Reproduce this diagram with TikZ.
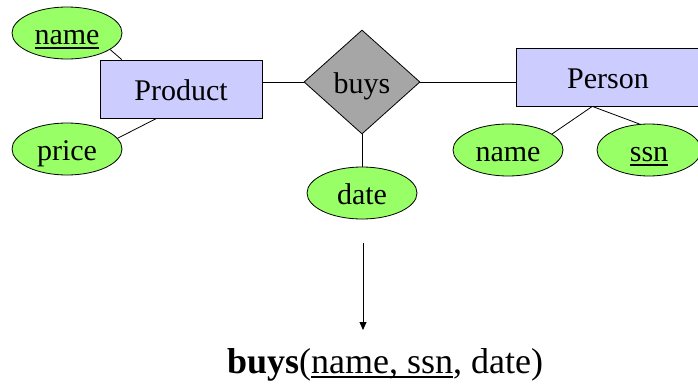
\documentclass[tikz,border=0pt]{standalone}
\usepackage{fontspec}
\setmainfont{Liberation Serif}
\newfontfamily\timesf{Liberation Serif}
\usetikzlibrary{shapes.geometric,arrows.meta,calc}
\definecolor{attrgreen}{RGB}{153,255,102}
\definecolor{entblue}{RGB}{204,204,255}
\definecolor{relgray}{RGB}{166,166,166}
\newcommand{\keyul}[2][1.6pt]{\setbox0\hbox{#2}\rlap{\rule[-5pt]{\wd0}{#1}}\box0}
\begin{document}
\begin{tikzpicture}[x=1pt,y=-1pt,
  font=\timesf\fontsize{30}{34}\selectfont,
  line width=0.8pt,
  lbl/.style={text height=22pt,text depth=0pt},
  attr/.style={lbl,ellipse,draw,fill=attrgreen,minimum width=110pt,minimum height=52pt,inner sep=0pt},
  entity/.style={lbl,rectangle,draw,fill=entblue,inner sep=0pt,minimum height=58pt},
  rel/.style={lbl,diamond,draw,fill=relgray,minimum width=116pt,minimum height=104pt,inner sep=0pt,aspect=1.1},
  conn/.style={draw,line width=0.8pt},
  arr/.style={draw,line width=0.8pt,-{Triangle[length=8pt,width=7pt]}}]
\useasboundingbox (0,0) rectangle (698,383);
\node[entity,minimum width=162pt] (prod) at (181,89) {Product};
\node[entity,minimum width=184pt] (pers) at (608,77) {Person};
\node[rel] (buys) at (362,82) {buys};
\node[attr] (pname) at (67,33) {\keyul{name}};
\node[attr] (price) at (67,149) {price};
\node[attr] (ename) at (508,150) {name};
\node[attr,minimum width=104pt] (ssn) at (649,150) {\keyul{ssn}};
\node[attr] (date) at (362,193) {date};
\path[conn] (pname.-21) -- ($(prod.north west)!0.136!(prod.north east)$);
\path[conn] (price.12) -- ($(prod.south west)!0.35!(prod.south east)$);
\path[conn] (buys.west) -- (buys.west -| prod.east);
\path[conn] (buys.east) -- (buys.east -| pers.west);
\path[conn] (buys.south) -- (date.north);
\coordinate (pj) at ($(pers.south west)!0.415!(pers.south east)$);
\path[conn] (pj) -- (ename.20);
\path[conn] (pj) -- (ssn.110);
\node[anchor=base,font=\timesf\fontsize{36}{40}\selectfont] (res) at (385,373) {\textbf{buys}(\keyul[2pt]{name, ssn}, date)};
\coordinate (atop) at (363,243);
\coordinate (abot) at (363,330);
\path[arr] (atop) -- (abot);
\end{tikzpicture}
\end{document}
